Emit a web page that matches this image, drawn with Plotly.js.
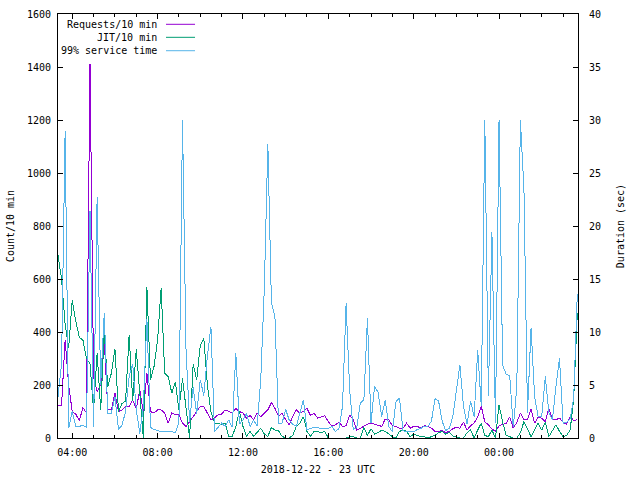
<!DOCTYPE html>
<html><head><meta charset="utf-8">
<script src="https://cdn.plot.ly/plotly-3.0.1.min.js"></script>
<style>html,body{margin:0;padding:0;background:#fff}
#chart path.js-line{shape-rendering:crispEdges}</style>
</head><body><div id="chart" style="width:640px;height:480px"></div>
<script>
// ---- data (10-minute samples starting 2018-12-22 03:20 UTC) ----
const startTimeUTC = Date.UTC(2018, 11, 22, 3, 20);
const stepMinutes = 10;

const requests = [
 123,123,370,200,100,90,65,115,95,1410,
 230,176,200,370,107,107,170,100,106,119,
 119,144,110,181,94,245,100,94,106,106,
 94,56,94,88,88,56,44,60,80,100,
 119,119,94,69,75,88,90,106,100,94,
 111,100,94,75,85,69,94,80,94,106,
 134,112,81,94,69,50,81,106,94,100,
 112,85,94,75,80,84,62,44,50,59,
 44,46,86,70,29,37,44,52,56,52,
 50,44,71,69,46,44,37,37,56,37,
 44,44,37,46,44,37,25,25,29,20,
 25,35,41,37,60,30,46,56,80,120,
 60,50,34,25,46,50,56,79,37,59,
 94,69,70,109,56,79,75,62,112,71,
 69,75,60,52,81,66,69];

const jit = [
 690,600,430,340,520,440,380,370,300,280,
 106,320,106,400,194,244,337,100,130,140,
 390,140,335,170,0,570,220,270,370,566,
 244,231,169,212,106,225,119,0,280,220,
 350,375,200,100,57,55,52,56,6,6,
 44,100,44,6,25,6,20,37,15,6,
 40,30,28,6,0,0,10,44,56,80,
 25,6,25,25,20,25,0,0,0,0,
 0,0,5,5,0,0,40,10,35,15,
 20,30,25,15,5,0,25,30,25,5,
 15,10,5,5,0,5,10,20,25,15,
 22,8,5,0,0,20,30,0,30,56,
 10,5,30,0,125,60,10,5,0,0,
 20,62,30,5,30,56,30,59,5,30,
 50,25,5,10,30,150,470];

const serviceTime = [
 3.9,7.0,29.0,0.9,2.5,1.1,1.1,1.2,1.0,21.4,
 1.0,22.7,5.0,11.8,2.3,2.3,3.9,0.8,1.2,2.5,
 5.8,7.0,2.7,0.4,3.0,11.2,1.0,0.8,0.7,0.6,
 0.6,0.6,0.6,0.5,1.5,30.0,8.3,1.5,4.8,2.3,
 5.5,4.0,7.7,10.5,0.6,1.0,1.4,1.1,1.7,1.0,
 8.0,1.3,1.7,2.3,1.1,1.7,1.1,5.5,14.0,27.7,
 12.8,11.4,1.4,1.4,2.7,1.7,1.3,1.1,2.3,3.6,
 0.8,0.9,1.0,1.0,0.85,0.9,0.9,1.1,0.6,0.9,
 3.0,12.7,4.5,0.8,1.0,3.3,3.6,11.3,1.4,4.9,
 4.3,2.0,3.6,1.1,0.6,3.4,3.8,0.7,0.6,0.6,
 0.6,0.8,0.9,1.1,1.1,1.6,3.7,3.5,1.6,0.7,
 0.9,2.0,4.5,6.9,3.0,1.3,3.5,2.0,8.3,3.0,
 30.0,4.0,19.4,1.4,30.0,6.9,6.0,5.9,1.0,4.8,
 30.0,23.5,2.4,10.4,3.9,2.0,2.0,5.8,2.4,1.7,
 4.9,7.5,1.4,1.5,1.8,3.8,13.6];

const seriesNames = ['Requests/10 min', 'JIT/10 min', '99% service time'];
const seriesColors = ['#9400D3', '#009E73', '#56B4E9'];
const xTitle = '2018-12-22 - 23 UTC';
const yTitle = 'Count/10 min';
const y2Title = 'Duration (sec)';

// ---- build ----
const times = requests.map((_, i) =>
  new Date(startTimeUTC + i * stepMinutes * 60000).toISOString().slice(0, 16).replace('T', ' '));

const font = {family: '"DejaVu Sans Mono", "Liberation Mono", monospace', size: 10, color: '#000'};

const traces = [
  {x: times, y: requests, yaxis: 'y', name: seriesNames[0], type: 'scatter', mode: 'lines', line: {color: seriesColors[0], width: 1}},
  {x: times, y: jit, yaxis: 'y', name: seriesNames[1], type: 'scatter', mode: 'lines', line: {color: seriesColors[1], width: 1}},
  {x: times, y: serviceTime, yaxis: 'y2', name: seriesNames[2], type: 'scatter', mode: 'lines', line: {color: seriesColors[2], width: 1}}
];

const legendRows = [0.9757, 0.9450, 0.9134];
const annotations = seriesNames.map((n, k) => ({
  text: n, xref: 'paper', yref: 'paper', x: 0.1942, y: legendRows[k],
  xanchor: 'right', yanchor: 'middle', showarrow: false, font: font
}));
const shapes = seriesColors.map((c, k) => ({
  type: 'line', xref: 'paper', yref: 'paper', x0: 0.2077, x1: 0.2635,
  y0: legendRows[k], y1: legendRows[k], line: {color: c, width: 1}
}));

const layout = {
  width: 640, height: 480,
  margin: {l: 58, r: 62, t: 14, b: 42, pad: 0},
  paper_bgcolor: '#fff', plot_bgcolor: '#fff',
  font: font, showlegend: false,
  xaxis: {
    type: 'date', range: ['2018-12-22 03:20', '2018-12-23 03:42'],
    tick0: '2018-12-22 04:00', dtick: 4 * 3600000, tickformat: '%H:%M',
    ticks: 'inside', ticklen: 5, tickwidth: 1, tickcolor: '#000',
    showline: true, linecolor: '#000', linewidth: 1, mirror: 'ticks',
    showgrid: false, zeroline: false, ticklabelstandoff: 5,
    minor: {dtick: 3600000, tick0: '2018-12-22 04:00', ticks: 'inside', ticklen: 3, tickcolor: '#000', showgrid: false},
    title: {text: xTitle, font: font, standoff: 8}
  },
  yaxis: {
    range: [0, 1600], tick0: 0, dtick: 200,
    ticks: 'inside', ticklen: 5, tickcolor: '#000',
    showline: true, linecolor: '#000', linewidth: 1, mirror: true,
    showgrid: false, zeroline: false, ticklabelstandoff: 4,
    title: {text: yTitle, font: font, standoff: 10}
  },
  yaxis2: {
    overlaying: 'y', side: 'right', range: [0, 40], tick0: 0, dtick: 5,
    ticks: 'inside', ticklen: 5, tickcolor: '#000',
    showline: true, linecolor: '#000', linewidth: 1,
    showgrid: false, zeroline: false, ticklabelstandoff: 8,
    title: {text: y2Title, font: font, standoff: 16}
  },
  annotations: annotations,
  shapes: shapes
};

Plotly.newPlot('chart', traces, layout, {staticPlot: true, displayModeBar: false});
</script>
</body></html>
